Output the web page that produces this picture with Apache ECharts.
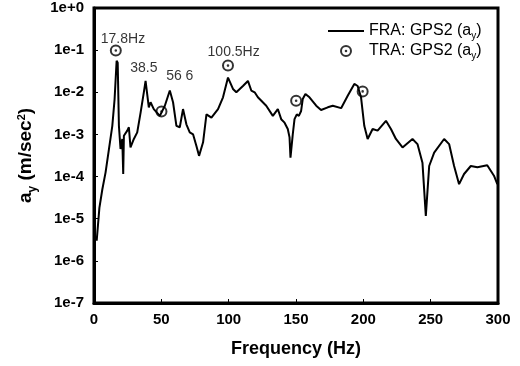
<!DOCTYPE html>
<html>
<head>
<meta charset="utf-8">
<style>
html,body{margin:0;padding:0;background:#fff;}
#chart{width:520px;height:366px;}
</style>
<script src="https://cdn.jsdelivr.net/npm/echarts@6/dist/echarts.min.js"></script>
</head>
<body>
<div id="chart"></div>
<script>
// FRA curve: frequency (Hz) and acceleration (m/sec^2)
var fraFreq = [2.0,4.0,6.2,8.6,11.1,13.6,15.3,16.8,17.6,18.5,19.7,21.0,21.7,22.2,23.4,24.7,25.9,27.1,29.6,32.1,34.6,37.0,38.3,39.5,40.7,42.0,44.4,48.9,52.6,56.3,58.7,61.2,63.7,66.1,68.6,71.1,73.6,76.0,78.0,81.0,83.5,87.2,92.1,95.8,99.5,100.7,103.2,105.7,110.6,114.3,116.8,119.3,121.7,127.9,132.8,136.5,139.0,141.5,143.9,145.2,145.9,147.6,148.9,150.6,152.1,153.8,155.0,157.0,160.0,165.0,168.6,173.6,177.3,183.5,188.4,193.3,195.8,198.3,200.7,203.2,206.9,210.6,216.8,220.5,224.2,229.1,236.5,240.2,243.9,246.4,248.9,252.6,260.0,263.7,267.4,271.1,274.8,279.8,284.7,292.0,297.0,299.5];
var fraAccel = [3.0e-6,1.8e-5,5.0e-5,1.26e-4,4.5e-4,1.6e-3,6.9e-3,0.056,0.05,1.6e-3,4.5e-4,7.8e-4,1.15e-4,9.3e-4,1.0e-3,1.23e-3,1.48e-3,4.9e-4,7.8e-4,1.12e-3,3.3e-3,1.0e-2,1.86e-2,9.1e-3,4.4e-3,5.8e-3,4.0e-3,2.75e-3,4.8e-3,1.1e-2,5.8e-3,1.6e-3,1.48e-3,4.0e-3,1.74e-3,1.12e-3,1.0e-3,5.4e-4,3.1e-4,6.5e-4,3.0e-3,2.5e-3,4.0e-3,7.6e-3,2.24e-2,2.04e-2,1.2e-2,1.0e-2,1.41e-2,1.86e-2,1.1e-2,1.0e-2,7.6e-3,4.8e-3,2.75e-3,4.0e-3,2.3e-3,1.9e-3,1.35e-3,8.5e-4,2.8e-4,1.0e-3,2.3e-3,3.0e-3,2.75e-3,3.6e-3,6.9e-3,9.1e-3,7.6e-3,4.8e-3,3.8e-3,4.4e-3,4.8e-3,4.2e-3,8.3e-3,1.58e-2,1.41e-2,7.6e-3,1.6e-3,7.8e-4,1.35e-3,1.23e-3,2.1e-3,1.35e-3,7.8e-4,4.9e-4,7.8e-4,5.9e-4,2.14e-4,1.17e-5,1.78e-4,3.7e-4,7.8e-4,5.9e-4,1.78e-4,6.6e-5,1.15e-4,1.78e-4,1.66e-4,1.86e-4,1.05e-4,6.6e-5];

// TRA points
var traFreq = [16.2, 50.1, 99.5, 150.1, 199.5];
var traAccel = [0.098, 3.5e-3, 0.043, 6.3e-3, 0.0105];

// Annotation texts and anchor positions (data coords)
var noteText  = ['17.8Hz', '38.5', '56 6', '100.5Hz'];
var noteFreq  = [21.5, 37.0, 63.7, 103.7];
var noteAccel = [0.179, 0.0376, 0.0236, 0.090];

// Axis ticks
var xTicks = [0, 50, 100, 150, 200, 250, 300];
var yTickLabels = ['1e-7','1e-6','1e-5','1e-4','1e-3','1e-2','1e-1','1e+0'];

var seriesNames = ['FRA: GPS2 (ay)', 'TRA: GPS2 (ay)'];

var FONT = '"Liberation Sans", Arial, sans-serif';

var fraData = fraFreq.map(function (f, i) { return [f, fraAccel[i]]; });
var traData = traFreq.map(function (f, i) { return [f, traAccel[i]]; });
var noteData = noteText.map(function (t, i) { return { name: t, value: [noteFreq[i], noteAccel[i]] }; });

var ringPath = 'path://M6,0A6,6,0,1,1,-6,0A6,6,0,1,1,6,0ZM4,0A4,4,0,1,0,-4,0A4,4,0,1,0,4,0ZM1.3,0A1.3,1.3,0,1,1,-1.3,0A1.3,1.3,0,1,1,1.3,0Z';

var chart = echarts.init(document.getElementById('chart'), null, { renderer: 'canvas' });
chart.setOption({
  animation: false,
  backgroundColor: '#fff',
  textStyle: { fontFamily: FONT },
  grid: {
    left: 94, right: 22, top: 8, bottom: 63,
    show: true, borderColor: '#000', borderWidth: 3, backgroundColor: 'transparent'
  },
  legend: {
    orient: 'vertical',
    left: 322, top: 18,
    itemWidth: 36, itemHeight: 12, itemGap: 2,
    data: [
      { name: seriesNames[0], itemStyle: { opacity: 0 } },
      { name: seriesNames[1] }
    ],
    formatter: function (n) { return '{t|' + n.replace('(ay)', '(a') + '}{s|y}{t|)}'; },
    textStyle: {
      fontFamily: FONT,
      rich: {
        t: { fontSize: 16, lineHeight: 20, color: '#000', fontFamily: FONT },
        s: { fontSize: 10, lineHeight: 7, verticalAlign: 'bottom', color: '#000', fontFamily: FONT }
      }
    }
  },
  xAxis: {
    type: 'value',
    min: xTicks[0], max: xTicks[xTicks.length - 1], interval: 50,
    name: 'Frequency (Hz)',
    nameLocation: 'middle', nameGap: 37,
    nameTextStyle: { fontSize: 18, fontWeight: 'bold', color: '#000', fontFamily: FONT },
    axisLine: { lineStyle: { color: '#000', width: 3 } },
    axisTick: { inside: true, length: 4, lineStyle: { color: '#000', width: 1 } },
    axisLabel: { fontSize: 15, fontWeight: 'bold', color: '#000', margin: 9, fontFamily: FONT },
    splitLine: { show: false }
  },
  yAxis: {
    type: 'log', logBase: 10,
    min: 1e-7, max: 1,
    name: '{a|a}{s|y}{a| (m/sec}{p|2}{a|)}',
    nameLocation: 'middle', nameGap: 55, nameRotate: 90,
    nameTextStyle: {
      fontFamily: FONT,
      rich: {
        a: { fontSize: 19, fontWeight: 'bold', lineHeight: 26, color: '#000', fontFamily: FONT },
        s: { fontSize: 12, fontWeight: 'bold', lineHeight: 8, verticalAlign: 'bottom', color: '#000', fontFamily: FONT },
        p: { fontSize: 11, fontWeight: 'bold', lineHeight: 11, verticalAlign: 'top', color: '#000', fontFamily: FONT, padding: [3, 0, 0, 0] }
      }
    },
    axisLine: { lineStyle: { color: '#000', width: 3 } },
    axisTick: { inside: true, length: 4, lineStyle: { color: '#000', width: 1 } },
    axisLabel: {
      fontSize: 15, fontWeight: 'bold', color: '#000', margin: 10, fontFamily: FONT,
      formatter: function (v) {
        var e = Math.round(Math.log10(v));
        return yTickLabels[e + 7];
      }
    },
    splitLine: { show: false }
  },
  series: [
    {
      name: seriesNames[0],
      type: 'line',
      data: fraData,
      showSymbol: false,
      symbol: 'none',
      lineStyle: { color: '#000', width: 2 },
      itemStyle: { color: '#000' },
      z: 3
    },
    {
      name: seriesNames[1],
      type: 'scatter',
      data: traData,
      symbol: ringPath,
      symbolSize: 12,
      itemStyle: { color: '#000' },
      z: 4
    },
    {
      name: 'notes',
      type: 'scatter',
      data: noteData,
      symbolSize: 1,
      itemStyle: { color: 'rgba(0,0,0,0)' },
      silent: true,
      label: {
        show: true, position: 'inside',
        formatter: function (p) { return p.name; },
        fontSize: 14, color: '#000', fontFamily: FONT
      },
      z: 5
    }
  ]
});
</script>
</body>
</html>
